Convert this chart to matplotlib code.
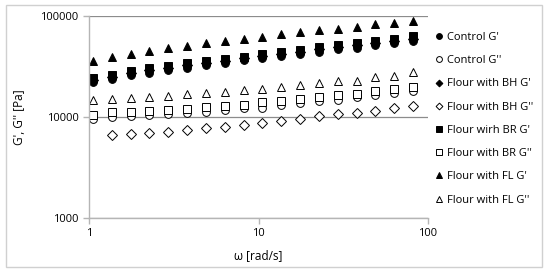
import matplotlib
matplotlib.use("Agg")
import matplotlib.pyplot as plt
import numpy as np
from matplotlib.patches import Rectangle

plt.rcParams["font.family"] = ["Open Sans", "DejaVu Sans"]

# --- data ---
omega = [1.05, 1.36, 1.76, 2.27, 2.93, 3.79, 4.89, 6.32, 8.16,
         10.5, 13.6, 17.6, 22.7, 29.3, 37.9, 48.9, 63.2, 81.6]

control_g1 = [22100, 23800, 25700, 27300, 29000, 30600, 32300, 34300, 36200,
              37900, 39600, 41800, 44000, 46500, 48200, 50900, 54100, 56500]
control_g2 = [9400, 9930, 10200, 10400, 10600, 10800, 11100, 11700, 12100,
              12300, 13100, 13800, 14200, 14700, 15600, 16400, 17100, 18100]
bh_g1 = [23100, 24900, 26900, 28700, 30500, 32200, 33900, 35700, 37700,
         39800, 41800, 43900, 46300, 48900, 50900, 53500, 56600, 59400]
bh_g2 = [np.nan, 6600, 6700, 6850, 7110, 7380, 7780, 7960, 8340,
         8700, 9130, 9550, 10100, 10600, 10970, 11500, 12100, 12800]
br_g1 = [24200, 26100, 28200, 30200, 32000, 33800, 35600, 37200, 39300,
         41800, 44000, 46100, 48600, 51300, 53700, 56200, 59200, 62500]
br_g2 = [10400, 11100, 11200, 11400, 11600, 12000, 12400, 12800, 13200,
         13900, 14200, 14900, 15700, 16300, 16800, 17800, 18900, 19900]
fl_g1 = [35800, 38700, 41800, 44700, 47500, 50400, 53300, 56200, 58800,
         62000, 65500, 68400, 71600, 74300, 76700, 82200, 85300, 89200]
fl_g2 = [14500, 15000, 15400, 15700, 16000, 16700, 17100, 17700, 18300,
         18900, 19500, 20700, 21600, 22600, 22600, 24500, 25300, 27500]

series = [
    ("Control G'", control_g1, "o", True),
    ("Control G''", control_g2, "o", False),
    ("Flour with BH G'", bh_g1, "D", True),
    ("Flour with BH G''", bh_g2, "D", False),
    ("Flour wirh BR G'", br_g1, "s", True),
    ("Flour with BR G''", br_g2, "s", False),
    ("Flour with FL G'", fl_g1, "^", True),
    ("Flour with FL G''", fl_g2, "^", False),
]

W, H = 550, 275
fig = plt.figure(figsize=(W / 100, H / 100), dpi=100)
fig.patches.append(Rectangle((6 / W, 1 - 267 / H), 536 / W, 262 / H,
                             transform=fig.transFigure, fill=False,
                             edgecolor="#d0d0d0", linewidth=1.0))

ax = fig.add_axes([89 / W, 1 - 217.7 / H, 339 / W, 202 / H])

sizes = {"o": 5.6, "D": 4.6, "s": 5.4, "^": 5.8}
for label, vals, mk, filled in series:
    ax.plot(omega, vals, linestyle="none", marker=mk, markersize=sizes[mk],
            markerfacecolor="black" if filled else "white",
            markeredgecolor="black", markeredgewidth=0.7, label=label)

ax.set_xscale("log")
ax.set_yscale("log")
ax.set_xlim(1, 100)
ax.set_ylim(1000, 100000)
ax.set_xticks([1, 10, 100])
ax.set_xticklabels(["1", "10", "100"])
ax.set_yticks([1000, 10000, 100000])
ax.set_yticklabels(["1000", "10000", "100000"])
ax.minorticks_off()
ax.yaxis.grid(True, color="#8c8c8c", linewidth=0.9)
ax.set_axisbelow(True)
for s in ["top", "right"]:
    ax.spines[s].set_visible(False)
for s in ["left", "bottom"]:
    ax.spines[s].set_color("#b5b5b5")
    ax.spines[s].set_linewidth(1.0)
ax.tick_params(axis="both", colors="#b5b5b5", labelcolor="black",
               labelsize=8, length=4, width=1.0)

ax.set_xlabel("ω [rad/s]", fontsize=8.5, labelpad=7)
ax.set_ylabel("G', G'' [Pa]", fontsize=8.5, labelpad=10)

ax.legend(loc="upper left", bbox_to_anchor=(436 / W, 1 - 32 / H),
          bbox_transform=fig.transFigure, frameon=False, fontsize=8,
          handlelength=0.6, handletextpad=0.35, labelspacing=1.1,
          borderaxespad=0, borderpad=0, markerscale=0.75)

fig.savefig("out.png", dpi=100)
